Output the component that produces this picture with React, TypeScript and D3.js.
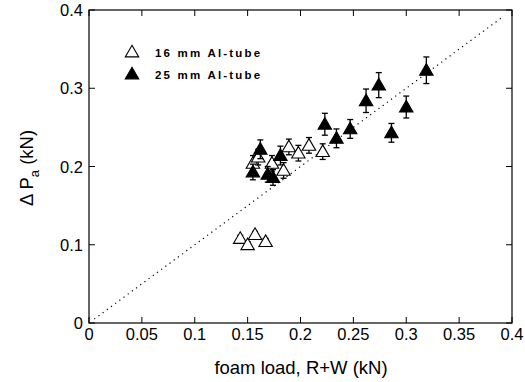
import React from "react";
import * as d3 from "d3";

// 16 mm Al-tube (open triangles)
const tube16X = [0.143, 0.150, 0.157, 0.167, 0.155, 0.160, 0.173, 0.184, 0.189, 0.198, 0.208, 0.221];
const tube16Y = [0.108, 0.100, 0.113, 0.104, 0.204, 0.212, 0.204, 0.195, 0.225, 0.217, 0.227, 0.219];
const tube16Err = [0.004, 0.004, 0.004, 0.004, 0.010, 0.010, 0.010, 0.010, 0.010, 0.010, 0.010, 0.010];

// 25 mm Al-tube (filled triangles)
const tube25X = [0.155, 0.162, 0.169, 0.174, 0.181, 0.223, 0.234, 0.247, 0.262, 0.274, 0.286, 0.300, 0.319];
const tube25Y = [0.193, 0.222, 0.190, 0.186, 0.214, 0.254, 0.236, 0.248, 0.284, 0.304, 0.243, 0.276, 0.323];
const tube25Err = [0.010, 0.012, 0.010, 0.010, 0.012, 0.014, 0.012, 0.012, 0.015, 0.016, 0.012, 0.014, 0.017];

const xTicks = [0, 0.05, 0.1, 0.15, 0.2, 0.25, 0.3, 0.35, 0.4];
const yTicks = [0, 0.1, 0.2, 0.3, 0.4];
const legendLabels = ["16 mm Al-tube", "25 mm Al-tube"];
const diagonal = [0.005, 0.39];

const W = 525, H = 382;
const L = 89, R = 512, T = 10, B = 323;

export default function App() {
  const x = d3.scaleLinear().domain([0, 0.4]).range([L, R]);
  const y = d3.scaleLinear().domain([0, 0.4]).range([B, T]);
  const font = "Liberation Sans, Arial, sans-serif";
  const tri = d3.symbol().type(d3.symbolTriangle).size(78);
  const triPath = tri() as string;
  const tick = 6;

  const renderSeries = (xs: number[], ys: number[], es: number[], filled: boolean) =>
    xs.map((xv, i) => {
      const cx = x(xv), cy = y(ys[i]);
      const y1 = y(ys[i] + es[i]), y2 = y(ys[i] - es[i]);
      return (
        <g key={(filled ? "f" : "o") + i}>
          <line x1={cx} x2={cx} y1={y1} y2={y2} stroke="#000" strokeWidth={1.3} />
          <line x1={cx - 3} x2={cx + 3} y1={y1} y2={y1} stroke="#000" strokeWidth={1.3} />
          <line x1={cx - 3} x2={cx + 3} y1={y2} y2={y2} stroke="#000" strokeWidth={1.3} />
          <path d={triPath} transform={`translate(${cx},${cy + 1})`}
            fill={filled ? "#000" : "#fff"} stroke="#000" strokeWidth={1.1} />
        </g>
      );
    });

  return (
    <svg width={W} height={H} style={{ position: "absolute", left: 0, top: 0, background: "#fff" }}>
      <rect x={0} y={0} width={W} height={H} fill="#fff" />
      {/* diagonal */}
      <line x1={x(diagonal[0])} y1={y(diagonal[0])} x2={x(diagonal[1])} y2={y(diagonal[1])}
        stroke="#000" strokeWidth={1.2} strokeDasharray="1.2 4" />
      {/* frame */}
      <rect x={L} y={T} width={R - L} height={B - T} fill="none" stroke="#000" strokeWidth={1.2} />
      {xTicks.map((t, i) => (
        <g key={"xt" + i}>
          <line x1={x(t)} x2={x(t)} y1={B} y2={B - tick} stroke="#000" />
          <line x1={x(t)} x2={x(t)} y1={T} y2={T + tick} stroke="#000" />
          <text x={x(t)} y={340} textAnchor="middle" fontFamily={font} fontSize={16.5}>{String(t)}</text>
        </g>
      ))}
      {yTicks.map((t, i) => (
        <g key={"yt" + i}>
          <line y1={y(t)} y2={y(t)} x1={L} x2={L + tick} stroke="#000" />
          <line y1={y(t)} y2={y(t)} x1={R} x2={R - tick} stroke="#000" />
          <text x={83} y={y(t) + 6} textAnchor="end" fontFamily={font} fontSize={16.5}>{String(t)}</text>
        </g>
      ))}
      {renderSeries(tube16X, tube16Y, tube16Err, false)}
      {renderSeries(tube25X, tube25Y, tube25Err, true)}
      {/* legend */}
      {legendLabels.map((lab, i) => (
        <g key={"lg" + i}>
          <path d={triPath} transform={`translate(132,${53 + i * 22})`}
            fill={i === 1 ? "#000" : "#fff"} stroke="#000" strokeWidth={1.1} />
          <text x={155} y={57 + i * 22} fontFamily={font} fontSize={11.5} fontWeight="bold" letterSpacing={2.2}>{lab}</text>
        </g>
      ))}
      {/* axis titles */}
      <text x={301} y={374} textAnchor="middle" fontFamily={font} fontSize={18.5}>foam load, R+W (kN)</text>
      <text transform="translate(33,168) rotate(-90)" textAnchor="middle" fontFamily={font} fontSize={18.5}>
        <tspan>Δ P</tspan>
        <tspan fontSize={13} dy={6}>a</tspan>
        <tspan dy={-6}> (kN)</tspan>
      </text>
    </svg>
  );
}
